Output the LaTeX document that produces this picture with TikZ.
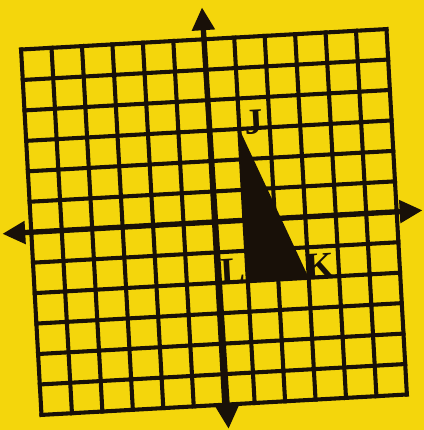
\documentclass[tikz,border=0pt]{standalone}
\usepackage{fontspec}
\setmainfont{Liberation Serif}
\usetikzlibrary{arrows.meta}
\definecolor{paper}{RGB}{244,214,12}
\definecolor{ink}{RGB}{24,16,8}
\begin{document}
\begin{tikzpicture}[x=1cm,y=1cm,
  gridline/.style={draw=ink,line width=3.8pt,line cap=rect},
  axisline/.style={draw=ink,line width=5pt,{Triangle[length=0.75cm,width=0.72cm]}-{Triangle[length=0.75cm,width=0.72cm]}},
  lbl/.style={text=ink,inner sep=0pt,font=\fontsize{34}{34}\selectfont\bfseries}]
\fill[paper] (-7.016,-6.82) rectangle (6.885,7.279);
\useasboundingbox (-7.016,-6.82) rectangle (6.885,7.279);
\begin{scope}[rotate=3.2]
  \foreach \i in {-6,...,6} {
    \draw[gridline] (\i,-6) -- (\i,6);
    \draw[gridline] (-6,\i) -- (6,\i);
  }
  \coordinate (xl) at (-6.95,0);
  \coordinate (xr) at (6.85,0);
  \coordinate (yb) at (0.1,-6.8);
  \coordinate (yt) at (0,7.05);
  \draw[axisline] (xl) -- (xr);
  \draw[axisline] (yb) -- (yt);
  \coordinate (J) at (1,3);
  \coordinate (L) at (1,-2);
  \coordinate (K) at (3,-2);
  \fill[ink] (J) -- (K) -- (L) -- cycle;
  \node[lbl,rotate=3.2] (jl) at (1.5,3.2) {J};
  \node[lbl,rotate=3.2] (ll) at (0.52,-1.65) {L};
  \node[lbl,rotate=3.2] (kl) at (3.4,-1.63) {K};
\end{scope}
\end{tikzpicture}
\end{document}
